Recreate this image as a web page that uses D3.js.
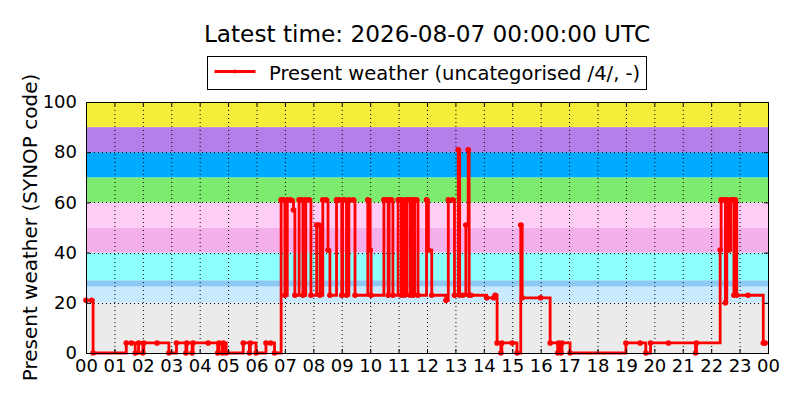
<!DOCTYPE html>
<html>
<head>
<meta charset="utf-8">
<script src="https://cdn.jsdelivr.net/npm/d3@7"></script>
<style>
  body { margin: 0; background: #fff; }
  text { font-family: "DejaVu Sans", sans-serif; fill: #000; }
</style>
</head>
<body>
<div id="chart"></div>
<script>
// Small helper so attributes can be set from one object
d3.selection.prototype.attrs = function (obj) {
  Object.entries(obj).forEach(([k, v]) => this.attr(k, v))
  return this
}

// Data

let day = `2026-08-06`
let title = `Latest time: 2026-08-07 00:00:00 UTC`
let seriesName = `Present weather (uncategorised /4/, -)`
let yLabel = `Present weather (SYNOP code)`

let times = [
  `00:00`, `00:12`, `00:15`, `01:25`, `01:36`, `01:44`, `01:51`, `02:00`, `02:02`, `02:30`,
  `02:55`, `03:11`, `03:31`, `03:33`, `03:44`, `03:46`, `04:18`, `04:38`, `04:41`, `04:48`,
  `04:50`, `04:56`, `05:32`, `05:45`, `05:47`, `05:59`, `06:20`, `06:30`, `06:38`, `06:52`,
  `06:57`, `07:00`, `07:05`, `07:12`, `07:18`, `07:21`, `07:30`, `07:36`, `07:38`, `07:44`,
  `07:51`, `07:55`, `08:07`, `08:12`, `08:14`, `08:20`, `08:27`, `08:31`, `08:35`, `08:49`,
  `08:54`, `09:00`, `09:02`, `09:06`, `09:10`, `09:15`, `09:24`, `09:28`, `09:55`, `10:00`,
  `10:02`, `10:29`, `10:36`, `10:38`, `10:40`, `10:45`, `10:48`, `10:59`, `11:03`, `11:06`,
  `11:09`, `11:13`, `11:17`, `11:21`, `11:24`, `11:27`, `11:31`, `11:34`, `11:38`, `11:41`,
  `11:59`, `12:03`, `12:10`, `12:40`, `12:45`, `12:54`, `12:58`, `13:06`, `13:09`, `13:16`,
  `13:22`, `13:27`, `13:29`, `13:33`, `14:06`, `14:21`, `14:24`, `14:28`, `14:36`, `14:38`,
  `15:00`, `15:10`, `15:18`, `15:21`, `16:00`, `16:20`, `16:36`, `16:38`, `16:43`, `16:45`,
  `17:02`, `19:00`, `19:30`, `19:42`, `19:52`, `20:30`, `21:27`, `21:29`, `22:19`, `22:21`,
  `22:27`, `22:30`, `22:33`, `22:37`, `22:41`, `22:45`, `22:48`, `22:51`, `22:54`, `23:18`,
  `23:50`, `23:54`,
]

let values = [
  21, 21, 0, 4, 4, 0, 4, 0, 4, 4,
  0, 4, 0, 4, 0, 4, 4, 0, 4, 0,
  4, 0, 4, 0, 4, 0, 4, 4, 0, 61,
  61, 23, 61, 61, 57, 23, 61, 61, 23, 61,
  61, 23, 51, 51, 23, 61, 61, 41, 23, 61,
  61, 23, 61, 61, 23, 61, 61, 23, 61, 41,
  23, 61, 61, 23, 61, 61, 23, 61, 61, 23,
  61, 23, 61, 61, 23, 61, 23, 61, 61, 23,
  61, 41, 23, 21, 61, 61, 23, 81, 23, 23,
  51, 81, 23, 23, 22, 22, 23, 4, 0, 4,
  4, 0, 51, 22, 22, 4, 0, 4, 0, 4,
  0, 4, 4, 0, 4, 4, 0, 4, 41, 61,
  61, 20, 61, 41, 61, 61, 23, 61, 23, 23,
  4, 4,
]

// SYNOP code bands
let bandFrom = [0, 20, 26.5, 29, 40, 50, 60, 70, 80, 90]
let bandTo = [20, 26.5, 29, 40, 50, 60, 70, 80, 90, 100]
let bandColors = [
  `#ebebeb`, `#c8eaff`, `#8ccaf5`, `#8cffff`, `#f5b0ec`,
  `#ffcdf5`, `#7deb6f`, `#00aaff`, `#b57ee8`, `#f6ed3b`,
]

let yTicks = [0, 20, 40, 60, 80, 100]

// Layout

let width = 800
let height = 400
let margin = { top: 102, right: 32, bottom: 47, left: 86 }
let innerW = width - margin.left - margin.right
let innerH = height - margin.top - margin.bottom
let red = `#ff0000`
let tickFont = `18px`

let parse = d3.timeParse(`%Y-%m-%d %H:%M`)
let start = parse(`${day} 00:00`)
let end = d3.timeDay.offset(start, 1)

let data = times.map((t, i) => ({ t: parse(`${day} ${t}`), v: values[i] }))

let x = d3.scaleTime().domain([start, end]).range([0, innerW])
let y = d3.scaleLinear().domain([0, 100]).range([innerH, 0])

let svg = d3.select(`#chart`)
  .append(`svg`)
  .attrs({ width, height })

let g = svg.append(`g`).attr(`transform`, `translate(${margin.left},${margin.top})`)

// Background bands

g.selectAll(`rect.band`)
  .data(bandColors)
  .join(`rect`)
  .attrs({
    class: `band`,
    x: 0,
    y: (d, i) => y(bandTo[i]),
    width: innerW,
    height: (d, i) => y(bandFrom[i]) - y(bandTo[i]),
    fill: d => d,
  })

// Grid

let hours = d3.timeHour.range(start, d3.timeHour.offset(end, 1))

g.append(`g`)
  .selectAll(`line`)
  .data(hours.slice(1, -1))
  .join(`line`)
  .attrs({
    x1: d => x(d) + 0.5,
    x2: d => x(d) + 0.5,
    y1: 0,
    y2: innerH,
    stroke: `#000`,
    'stroke-width': 1,
    'stroke-dasharray': `1,3`,
  })

g.append(`g`)
  .selectAll(`line`)
  .data(yTicks.slice(1, -1))
  .join(`line`)
  .attrs({
    x1: 0,
    x2: innerW,
    y1: d => Math.round(y(d)) + 0.5,
    y2: d => Math.round(y(d)) + 0.5,
    stroke: `#000`,
    'stroke-width': 1,
    'stroke-dasharray': `1,3`,
  })

// Series (step after)

let line = d3.line()
  .x(d => x(d.t))
  .y(d => y(d.v))
  .curve(d3.curveStepAfter)

g.append(`path`)
  .datum(data)
  .attrs({
    d: line,
    fill: `none`,
    stroke: red,
    'stroke-width': 2.8,
    'stroke-linejoin': `miter`,
  })

g.append(`g`)
  .selectAll(`circle`)
  .data(data)
  .join(`circle`)
  .attrs({
    cx: d => x(d.t),
    cy: d => y(d.v),
    r: 2.8,
    fill: red,
  })

// Axes (ticks inward on all sides)

let xAxis = d3.axisBottom(x)
  .ticks(d3.timeHour.every(1))
  .tickFormat(d3.timeFormat(`%H`))
  .tickSizeInner(-4)
  .tickSizeOuter(0)
  .tickPadding(8)

let gx = g.append(`g`)
  .attr(`transform`, `translate(0,${innerH})`)
  .call(xAxis)

gx.select(`.domain`).remove()
gx.selectAll(`text`).attrs({ 'font-size': tickFont, dy: `0.71em` })
  .style(`font-family`, `"DejaVu Sans", sans-serif`)
  .attr(`y`, 6)

g.append(`g`)
  .call(d3.axisTop(x).ticks(d3.timeHour.every(1)).tickSizeInner(-4).tickSizeOuter(0).tickFormat(``))
  .call(s => s.select(`.domain`).remove())

let yAxis = d3.axisLeft(y)
  .tickValues(yTicks)
  .tickSizeInner(-4)
  .tickSizeOuter(0)
  .tickPadding(9)

let gy = g.append(`g`).call(yAxis)
gy.select(`.domain`).remove()
gy.selectAll(`text`).attr(`font-size`, tickFont)
  .style(`font-family`, `"DejaVu Sans", sans-serif`)

g.append(`g`)
  .attr(`transform`, `translate(${innerW},0)`)
  .call(d3.axisRight(y).tickValues(yTicks).tickSizeInner(-4).tickSizeOuter(0).tickFormat(``))
  .call(s => s.select(`.domain`).remove())

// Frame

g.append(`rect`)
  .attrs({
    x: 0.5,
    y: 0.5,
    width: innerW,
    height: innerH,
    fill: `none`,
    stroke: `#000`,
    'stroke-width': 1,
  })

// Y label

svg.append(`text`)
  .attrs({
    transform: `translate(37,${margin.top + innerH / 2}) rotate(-90)`,
    'text-anchor': `middle`,
    'font-size': `20px`,
  })
  .text(yLabel)

// Title

svg.append(`text`)
  .attrs({
    x: margin.left + innerW / 2,
    y: 42,
    'text-anchor': `middle`,
    'font-size': `23.2px`,
  })
  .text(title)

// Legend

let legend = svg.append(`g`).attr(`transform`, `translate(207.5,56.5)`)

legend.append(`rect`)
  .attrs({ x: 0, y: 0, width: 439, height: 33, fill: `#fff`, stroke: `#000`, 'stroke-width': 1 })

legend.append(`line`)
  .attrs({ x1: 7, x2: 48, y1: 15, y2: 15, stroke: red, 'stroke-width': 2.8 })

legend.append(`circle`)
  .attrs({ cx: 27.5, cy: 15, r: 2, fill: red })

legend.append(`text`)
  .attrs({ x: 61.5, y: 23, 'font-size': `19.5px` })
  .text(seriesName)
</script>
</body>
</html>
